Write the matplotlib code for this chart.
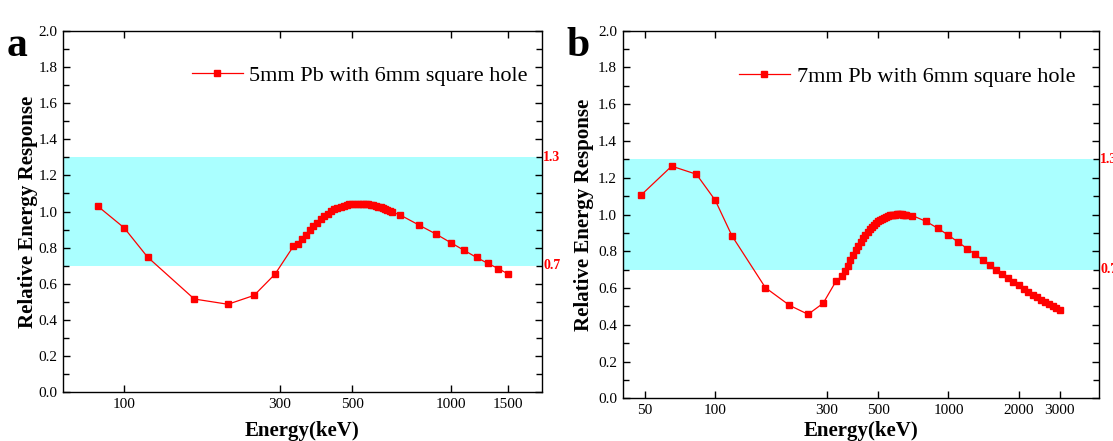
import matplotlib
matplotlib.use('Agg')
import matplotlib.pyplot as plt
from matplotlib.ticker import MultipleLocator, NullLocator
import matplotlib.transforms as mtransforms

plt.rcParams['font.family'] = ['Liberation Serif', 'DejaVu Serif']

# panel a: 5mm Pb
energy_a = [83, 100, 118, 164, 208, 250, 290, 330, 340, 350, 360, 370, 380, 390,
            400, 410, 420, 430, 440, 450, 460, 470, 480, 490, 500, 510, 520, 530,
            540, 550, 560, 570, 580, 590, 600, 610, 620, 630, 640, 650, 660,
            700, 800, 900, 1000, 1100, 1200, 1300, 1400, 1500]
response_a = [1.030, 0.910, 0.748, 0.516, 0.487, 0.536, 0.654, 0.808, 0.818, 0.846,
              0.872, 0.896, 0.918, 0.938, 0.957, 0.974, 0.988, 1.001, 1.012, 1.020,
              1.027, 1.032, 1.036, 1.039, 1.041, 1.043, 1.044, 1.044, 1.043, 1.042,
              1.040, 1.037, 1.034, 1.031, 1.027, 1.023, 1.018, 1.013, 1.008, 1.003,
              0.998, 0.981, 0.925, 0.876, 0.828, 0.785, 0.746, 0.713, 0.684, 0.654]
xticks_a = [100, 300, 500, 1000, 1500]

# panel b: 7mm Pb
energy_b = [48, 65, 83, 100, 118, 164, 208, 250, 290, 330, 350, 360, 370, 380, 390,
            400, 410, 420, 430, 440, 450, 460, 470, 480, 490, 500, 510, 520, 530,
            540, 550, 560, 570, 580, 590, 600, 610, 620, 630, 640, 650, 660,
            700, 800, 900, 1000, 1100, 1200, 1300, 1400, 1500, 1600, 1700, 1800,
            1900, 2000, 2100, 2200, 2300, 2400, 2500, 2600, 2700, 2800, 2900, 3000]
response_b = [1.105, 1.263, 1.219, 1.077, 0.883, 0.602, 0.506, 0.457, 0.517, 0.639,
              0.665, 0.691, 0.722, 0.751, 0.779, 0.806, 0.829, 0.852, 0.872, 0.891,
              0.907, 0.921, 0.934, 0.944, 0.954, 0.962, 0.970, 0.977, 0.983, 0.988,
              0.992, 0.995, 0.998, 0.999, 1.000, 1.001, 1.001, 1.001, 1.001, 1.000,
              1.000, 0.999, 0.994, 0.963, 0.925, 0.887, 0.850, 0.815, 0.783, 0.753,
              0.725, 0.698, 0.674, 0.653, 0.634, 0.614, 0.596, 0.580, 0.564, 0.549,
              0.537, 0.524, 0.513, 0.502, 0.490, 0.480]
xticks_b = [50, 100, 300, 500, 1000, 2000, 3000]

band = (0.7, 1.3)

fig = plt.figure(figsize=(11.13, 4.41), dpi=100)
ax_a = fig.add_axes([0.0566, 0.1104, 0.4301, 0.8200])
ax_b = fig.add_axes([0.5593, 0.0968, 0.4281, 0.8336])


def draw(ax, energy, resp, xticks, xlim, label, letter, leg_x, xpad, ypad):
    ax.axhspan(band[0], band[1], color='#AAFFFF', lw=0, zorder=0)
    ax.plot(energy, resp, color='red', lw=0.9, marker='s', ms=4,
            mec='red', mfc='red', label=label, zorder=3)
    ax.set_xscale('log')
    ax.set_xlim(xlim)
    ax.set_ylim(0, 2.0)
    ax.set_xticks(xticks)
    ax.set_xticklabels([str(t) for t in xticks])
    ax.xaxis.set_minor_locator(NullLocator())
    ax.yaxis.set_major_locator(MultipleLocator(0.2))
    ax.yaxis.set_minor_locator(MultipleLocator(0.1))
    ax.tick_params(which='both', direction='in', top=True, right=True,
                   labelsize=11, pad=4, width=1)
    ax.tick_params(which='major', length=5)
    ax.tick_params(which='minor', length=4)
    for s in ax.spines.values():
        s.set_linewidth(1.0)
    ax.set_xlabel('Energy(keV)', fontsize=15, fontweight='bold', labelpad=xpad)
    ax.set_ylabel('Relative Energy Response', fontsize=15, fontweight='bold', labelpad=ypad)
    ax.legend(loc='center right', bbox_to_anchor=(leg_x, 0.875), frameon=False,
              fontsize=16, handlelength=2.3, handletextpad=0.3,
              borderpad=0, borderaxespad=0)
    tr = mtransforms.blended_transform_factory(ax.transAxes, ax.transData)
    for v in band:
        ax.text(1.003, v, '%.1f' % v, transform=tr, color='red', fontsize=10,
                fontweight='bold', va='center', ha='left', clip_on=False)
    ax.text(-0.118, 1.01, letter, transform=ax.transAxes, fontsize=30,
            fontweight='bold', ha='left', va='top')


draw(ax_a, energy_a, response_a, xticks_a, (65, 1900),
     '5mm Pb with 6mm square hole', 'a', 0.971, 7.5, 0.5)
draw(ax_b, energy_b, response_b, xticks_b, (40, 4420),
     '7mm Pb with 6mm square hole', 'b', 0.950, 3, 3)

plt.savefig('out.png', dpi=100)
